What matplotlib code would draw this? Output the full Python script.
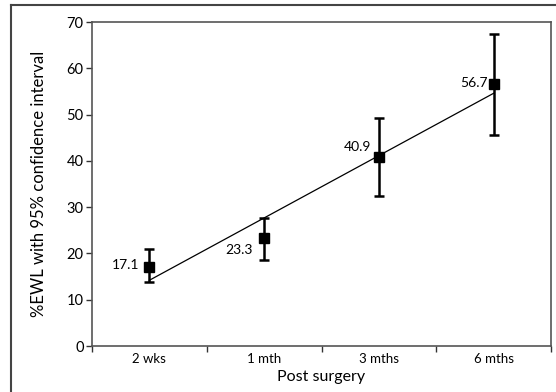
import numpy as np
import matplotlib
matplotlib.use('Agg')
import matplotlib.pyplot as plt
from matplotlib.lines import Line2D

plt.rcParams.update({
    "font.family": ["Lato", "DejaVu Sans"],
    "font.size": 10,
})

categories = ['2 wks', '1 mth', '3 mths', '6 mths']
ewl_mean = [17.1, 23.3, 40.9, 56.7]
ci_low = [13.9, 18.6, 32.4, 45.6]
ci_high = [21.0, 27.7, 49.2, 67.5]
trend_ends = [14.2, 54.6]  # fitted line read at first and last time point

x = np.arange(len(categories))

fig = plt.figure(figsize=(5.56, 3.92), dpi=100)
ax = fig.add_axes([92/556, 46/392, 459/556, 324/392])

ax.plot([x[0], x[-1]], trend_ends, color='black', linewidth=0.9, zorder=2)

yerr = np.array([np.array(ewl_mean) - np.array(ci_low),
                 np.array(ci_high) - np.array(ewl_mean)])
ax.errorbar(x, ewl_mean, yerr=yerr, fmt='s', color='black', ms=7,
            elinewidth=1.8, capsize=3.5, capthick=1.8, zorder=3)

# value labels just left of each marker
offsets = [(-0.09, 0.4), (-0.1, -2.6), (-0.07, 2.2), (-0.05, 0.1)]
for xi, v, (dx, dy) in zip(x, ewl_mean, offsets):
    ax.text(xi + dx, v + dy, f'{v:.1f}', ha='right', va='center', fontsize=10)

ax.set_xlim(-0.5, 3.5)
ax.set_ylim(0, 70)
ax.set_yticks(range(0, 71, 10))
ax.set_xticks(np.arange(-0.5, 3.6, 1.0))
ax.set_xticklabels([])
ax.set_xticks(x, minor=True)
ax.set_xticklabels(categories, minor=True, fontsize=9.5)
ax.tick_params(axis='x', which='minor', length=0, pad=5)
ax.tick_params(axis='x', which='major', length=4, width=1, color='#333333')
ax.tick_params(axis='y', length=4, width=1, labelsize=10.5, pad=2, color='#333333')

for s in ax.spines.values():
    s.set_color('#555555')
    s.set_linewidth(1.2)

ax.set_xlabel('Post surgery', fontsize=11.5, labelpad=4)
ax.set_ylabel('%EWL with 95% confidence interval', fontsize=12, labelpad=14)

# outer frame (top and left edges visible)
fx = 11/556
fy = 1 - 5/392
fig.add_artist(Line2D([fx, fx], [0, fy], color='#444444', linewidth=1.5))
fig.add_artist(Line2D([fx, 1], [fy, fy], color='#444444', linewidth=1.5))

fig.savefig('out.png', dpi=100)
